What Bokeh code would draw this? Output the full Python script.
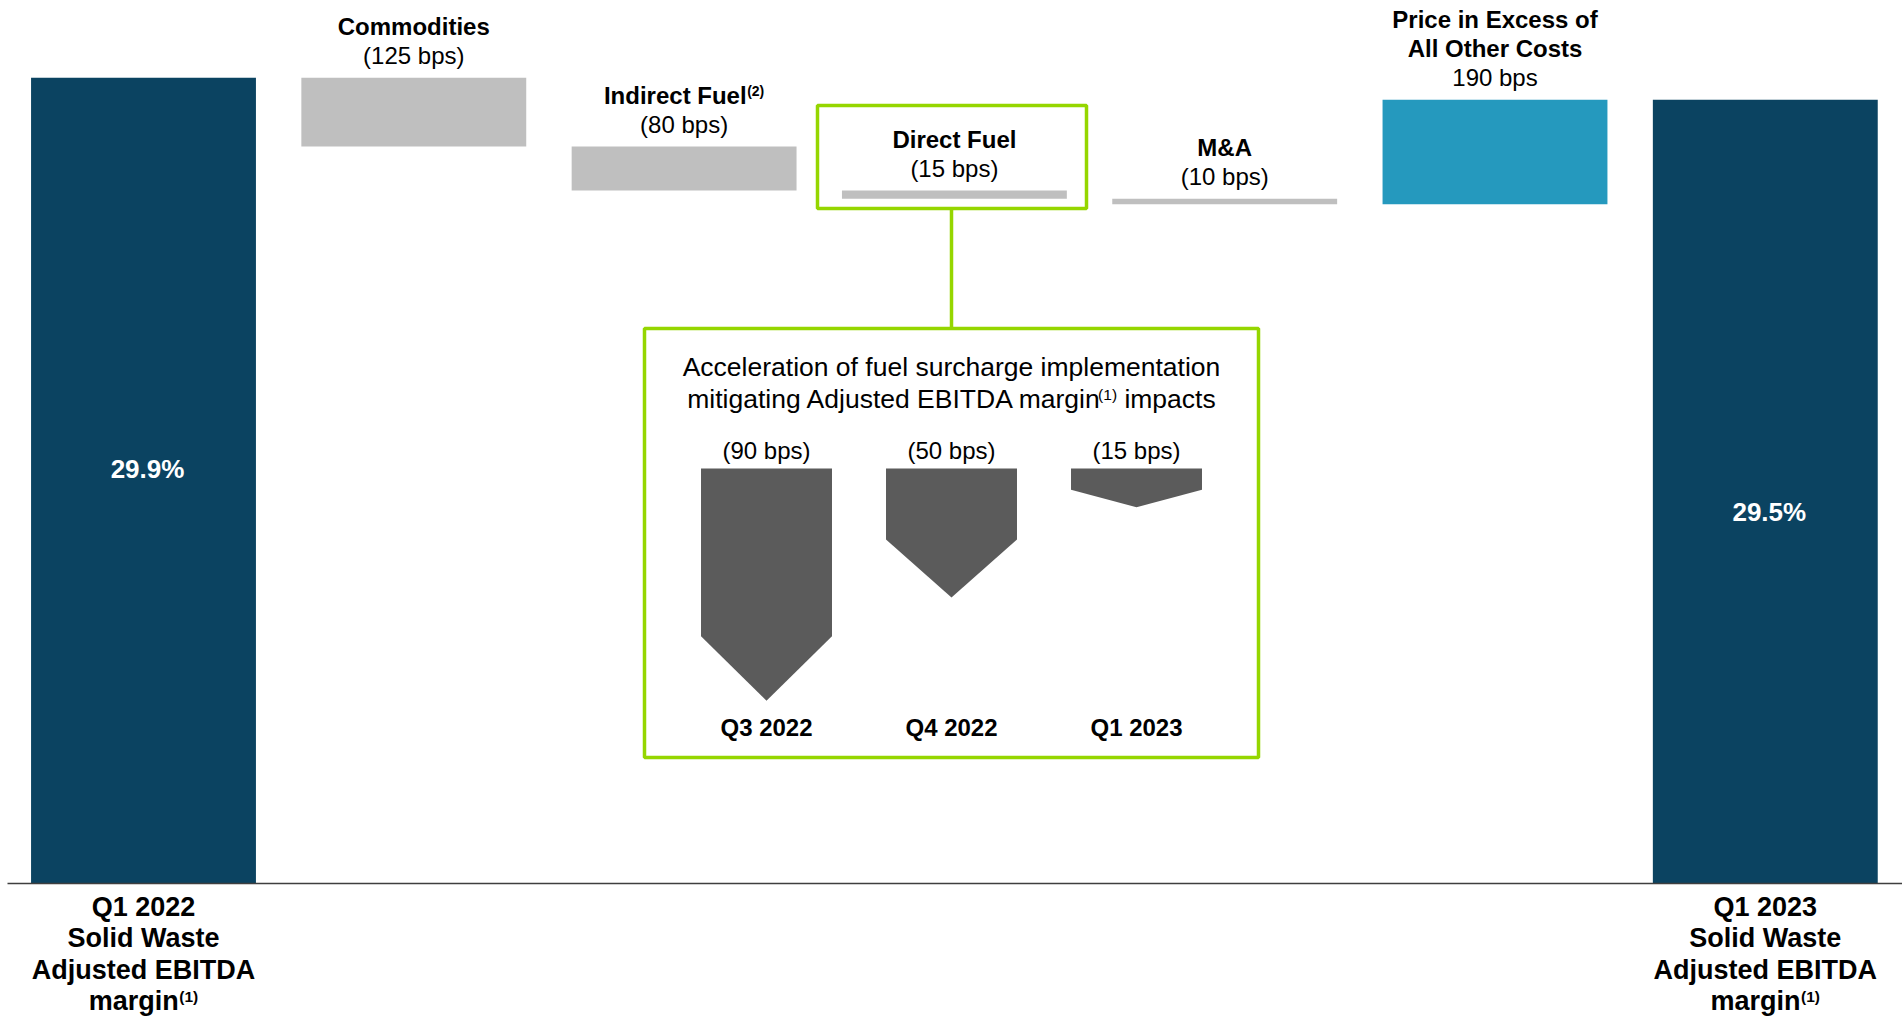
from bokeh.plotting import figure
from bokeh.models import Range1d, ColumnDataSource
from bokeh.embed import file_html
from bokeh.resources import INLINE
from bokeh.core.properties import value

# ---------------- data ----------------
categories = ["Q1 2022", "Commodities", "Indirect Fuel", "Direct Fuel", "M&A",
              "Price in Excess of All Other Costs", "Q1 2023"]
start_margin = 29.9          # %
end_margin = 29.5            # %
step_bps = [-125, -80, -15, -10, 190]
step_titles = [["Commodities"], ["Indirect Fuel"], ["Direct Fuel"], ["M&A"],
               ["Price in Excess of", "All Other Costs"]]
step_title_notes = ["", "(2)", "", "", ""]
total_labels = [["Q1 2022", "Solid Waste", "Adjusted EBITDA", "margin"],
                ["Q1 2023", "Solid Waste", "Adjusted EBITDA", "margin"]]
total_label_note = "(1)"

inset_title_1 = "Acceleration of fuel surcharge implementation"
inset_title_2 = ["mitigating Adjusted EBITDA margin", "(1)", "impacts"]
inset_quarters = ["Q3 2022", "Q4 2022", "Q1 2023"]
inset_fuel_bps = [90, 50, 15]

# ---------------- layout / style ----------------
W, H = 1902, 1018
FONT = value("Liberation Sans")
DARK = "#0B4361"
GREY = "#BFBFBF"
BLUE = "#2599BE"
GREEN = "#95D600"
ARROW = "#5B5B5B"

BASE = 15.25             # value at the baseline
SY = 55.0                # px per % point
SX = 270.3               # px per category
X0 = -143.0 / SX
X1 = X0 + W / SX
Y1 = BASE + 883.0 / SY
Y0 = Y1 - H / SY


def dy(px):
    return px / SY


def to_px_x(x):
    return (x - X0) * SX


def to_px_y(v):
    return (Y1 - v) * SY


# Arial / Liberation Sans advance widths (per 1000 em)
REG = {' ': 278, '(': 333, ')': 333, '1': 556, '2': 556, 'a': 556, 'b': 556, 'c': 500,
       'd': 556, 'e': 556, 'f': 278, 'g': 556, 'h': 556, 'i': 222, 'j': 222, 'k': 500,
       'l': 222, 'm': 833, 'n': 556, 'o': 556, 'p': 556, 'r': 333, 's': 500, 't': 278,
       'u': 556, 'A': 667, 'B': 667, 'D': 722, 'E': 667, 'I': 278, 'T': 611}
BOLD = {' ': 278, '(': 333, ')': 333, '1': 556, '2': 556, 'a': 556, 'c': 556, 'd': 611,
        'e': 556, 'g': 611, 'i': 278, 'l': 278, 'm': 889, 'n': 611, 'r': 389, 't': 333,
        'u': 611, 'F': 611, 'I': 278}


def text_w(t, size, bold):
    tab = BOLD if bold else REG
    return sum(tab.get(c, 556) for c in t) * size / 1000.0


p = figure(width=W, height=H, output_backend="svg", toolbar_location=None,
           x_range=Range1d(X0, X1), y_range=Range1d(Y0, Y1),
           x_axis_location=None, y_axis_location=None, min_border=0)
p.outline_line_color = None
p.background_fill_color = "white"
p.border_fill_color = "white"
p.xgrid.visible = False
p.ygrid.visible = False

# inset ranges (bps) and a pixel range for decorations
IX_C0, IX_S = 766.0, 185.0
IY_TOP, IY_S = 468.0, 2.58
p.extra_x_ranges = {"ix": Range1d(-IX_C0 / IX_S, (W - IX_C0) / IX_S), "px": Range1d(0, W)}
p.extra_y_ranges = {"iy": Range1d((IY_TOP - H) / IY_S, IY_TOP / IY_S), "py": Range1d(H, 0)}


def rich_line(cx, cy, pieces, color="black"):
    """pieces: (text, size_px, bold, rise_px, gap_before_px)"""
    widths = [g + text_w(t, s, b) for t, s, b, r, g in pieces]
    x = cx - sum(widths) / 2.0
    for (t, s, b, r, g), w in zip(pieces, widths):
        p.text(x=[x + g], y=[cy - r], text=[t], text_font=FONT, text_font_size=f"{s}px",
               text_font_style="bold" if b else "normal", text_align="left",
               text_baseline="middle", text_color=color, x_range_name="px", y_range_name="py")
        x += w


# ---------------- waterfall bars ----------------
xs, bottoms, tops, colors = [], [], [], []
xs.append(0); bottoms.append(BASE); tops.append(start_margin); colors.append(DARK)
run = start_margin
for i, b in enumerate(step_bps):
    new = run + b / 100.0
    xs.append(i + 1)
    bottoms.append(min(run, new))
    tops.append(max(run, new))
    colors.append(GREY if b < 0 else BLUE)
    run = new
xs.append(len(step_bps) + 1); bottoms.append(BASE); tops.append(end_margin); colors.append(DARK)

bw = 0.416
src = ColumnDataSource(dict(left=[x - bw for x in xs], right=[x + bw for x in xs],
                            bottom=bottoms, top=tops, color=colors))
p.quad(left="left", right="right", bottom="bottom", top="top", fill_color="color",
       line_color=None, source=src)

# baseline
p.segment(x0=[X0 + 7 / SX], x1=[X1], y0=[BASE], y1=[BASE], line_color="#3F3F3F", line_width=1.5)

# step labels
vx, vy, vt, tx, ty, tt = [], [], [], [], [], []
for i, b in enumerate(step_bps):
    top = tops[i + 1]
    vx.append(i + 1)
    vy.append(top + dy(22.5))
    vt.append(f"({abs(b)} bps)" if b < 0 else f"{b} bps")
    lines = step_titles[i]
    for k, line in enumerate(reversed(lines)):
        ty_k = top + dy(22.5 + 29 * (k + 1))
        if step_title_notes[i] and k == 0:
            rich_line(to_px_x(i + 1), to_px_y(ty_k),
                      [(line, 24, True, 0, 0), (step_title_notes[i], 14, True, 4, 0.5)])
        else:
            tx.append(i + 1)
            ty.append(ty_k)
            tt.append(line)
p.text(x=vx, y=vy, text=vt, text_font=FONT, text_font_size="24px", text_align="center",
       text_baseline="middle", text_color="black")
p.text(x=tx, y=ty, text=tt, text_font=FONT, text_font_size="24px", text_font_style="bold",
       text_align="center", text_baseline="middle", text_color="black")

# total labels (inside bars)
frac = [0.514, 0.474]
p.text(x=[xs[0], xs[-1]],
       y=[BASE + frac[0] * (start_margin - BASE), BASE + frac[1] * (end_margin - BASE)],
       text=[f"{start_margin:.1f}%", f"{end_margin:.1f}%"], text_font=FONT, text_font_size="26px",
       text_font_style="bold", text_color="white", text_align="center", text_baseline="middle",
       x_offset=4)

# category labels under totals
bx, by, bt = [], [], []
for x, lines in zip([xs[0], xs[-1]], total_labels):
    for k, line in enumerate(lines):
        yk = BASE - dy(23 + 31.5 * k)
        if k == len(lines) - 1:
            rich_line(to_px_x(x), to_px_y(yk),
                      [(line, 27, True, 0, 0), (total_label_note, 15.5, True, 4.5, 0.5)])
        else:
            bx.append(x)
            by.append(yk)
            bt.append(line)
p.text(x=bx, y=by, text=bt, text_font=FONT, text_font_size="27px", text_font_style="bold",
       text_align="center", text_baseline="middle", text_color="black")

# ---------------- green call-out boxes ----------------
p.quad(left=[817], right=[1086], top=[105], bottom=[208], fill_color=None, line_color=GREEN,
       line_width=3.5, x_range_name="px", y_range_name="py")
p.segment(x0=[951], x1=[951], y0=[208], y1=[328], line_color=GREEN, line_width=3.5,
          x_range_name="px", y_range_name="py")
p.quad(left=[644], right=[1258], top=[328], bottom=[757], fill_color=None, line_color=GREEN,
       line_width=3.5, x_range_name="px", y_range_name="py")

p.text(x=[951], y=[366], text=[inset_title_1], text_font=FONT, text_font_size="26.5px",
       text_align="center", text_baseline="middle", text_color="black",
       x_range_name="px", y_range_name="py")
rich_line(951, 398, [(inset_title_2[0], 26.5, False, 0, 0),
                     (inset_title_2[1], 15.5, False, 4.5, -4.5),
                     (inset_title_2[2], 26.5, False, 0, text_w(" ", 26.5, False))])

# ---------------- inset arrows ----------------
axs, ays = [], []
hw = 0.354
for i, v in enumerate(inset_fuel_bps):
    h = min(25.0, 0.45 * v)
    axs.append([i - hw, i + hw, i + hw, i, i - hw])
    ays.append([0, 0, -(v - h), -v, -(v - h)])
p.patches(xs=axs, ys=ays, fill_color=ARROW, line_color=None,
          x_range_name="ix", y_range_name="iy")
p.text(x=list(range(len(inset_fuel_bps))), y=[18 / IY_S] * len(inset_fuel_bps),
       text=[f"({v} bps)" for v in inset_fuel_bps], text_font=FONT, text_font_size="24px",
       text_align="center", text_baseline="middle", text_color="black",
       x_range_name="ix", y_range_name="iy")
p.text(x=list(range(len(inset_quarters))), y=[(IY_TOP - 727) / IY_S] * len(inset_quarters),
       text=inset_quarters, text_font=FONT, text_font_size="24px", text_font_style="bold",
       text_align="center", text_baseline="middle", text_color="black",
       x_range_name="ix", y_range_name="iy")

open("out.html", "w").write(file_html(p, INLINE))
